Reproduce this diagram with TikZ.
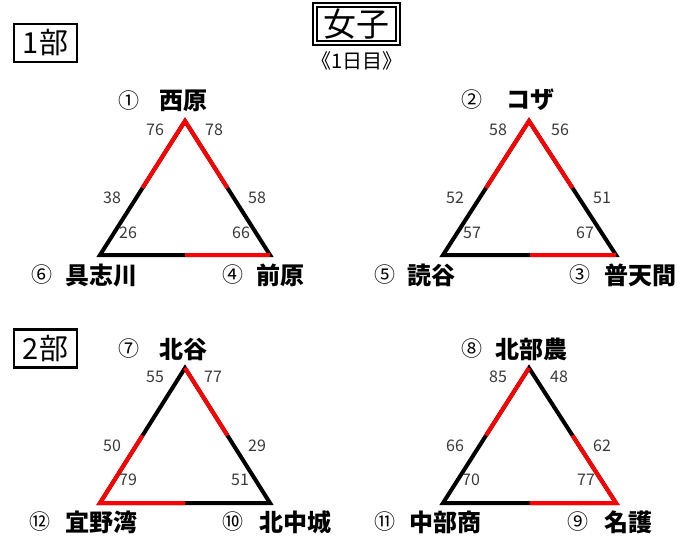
\documentclass[tikz,border=0pt]{standalone}
\usepackage{fontspec}
\setmainfont{Noto Sans CJK JP}
\usetikzlibrary{calc}
\definecolor{scoregray}{HTML}{3A3A3A}
\tikzset{
  score/.style={font=\fontsize{16}{16}\selectfont, text=scoregray, inner sep=0pt},
  team/.style={font=\fontsize{24}{24}\selectfont\bfseries, inner sep=0pt},
  seed/.style={font=\fontsize{21}{21}\selectfont, inner sep=0pt},
  edge/.style={line width=4pt, line join=miter, draw=black},
  win/.style={edge, draw=red},
  divbox/.style={draw=black, line width=2.6pt, minimum width=63pt, minimum height=38pt, inner sep=0pt, font=\fontsize{29}{29}\selectfont}
}
\begin{document}
\begin{tikzpicture}[x=1pt,y=-1pt]
\useasboundingbox (0,0) rectangle (698,541);
\fill[white] (0,0) rectangle (698,541);

% title
\node[draw=black, line width=2pt, minimum width=87pt, minimum height=42pt, inner sep=0pt] (titlebox) at (356.5,24) {};
\node[draw=black, line width=1.4pt, minimum width=79pt, minimum height=34pt, inner sep=0pt, font=\fontsize{33}{33}\selectfont] (title) at (356.5,24) {女子};
\node[font=\fontsize{20}{20}\selectfont, inner sep=0pt] (day) at (357,61) {《1日目》};

% division boxes
\node[divbox] (div1) at (45.5,43) {1部};
\node[divbox] (div2) at (45.5,348.5) {2部};

% ---------- triangle 1 ----------
\coordinate (a1) at (185,121); \coordinate (l1) at (100,255); \coordinate (r1) at (270,255);
\coordinate (ml1) at ($(a1)!0.5!(l1)$); \coordinate (mr1) at ($(a1)!0.5!(r1)$); \coordinate (mb1) at ($(l1)!0.5!(r1)$);
\draw[edge] (a1) -- (l1) -- (r1) -- cycle;
\draw[win] (ml1) -- (a1) -- (mr1);
\draw[win] (mb1) -- (r1);
\node[seed] (s1) at (129,101) {①}; \node[team] (t1) at (183,101) {西原};
\node[seed] (s6) at (42,275) {⑥}; \node[team] (t6) at (101,275) {具志川};
\node[seed] (s4) at (233,275) {④}; \node[team] (t4) at (280,275) {前原};
\node[score] (n1a) at (155,130) {76}; \node[score] (n1b) at (214,130) {78};
\node[score] (n1c) at (112,198) {38}; \node[score] (n1d) at (257,198) {58};
\node[score] (n1e) at (128,233) {26}; \node[score] (n1f) at (241,233) {66};

% ---------- triangle 2 ----------
\coordinate (a2) at (529,121); \coordinate (l2) at (443,255); \coordinate (r2) at (616,255);
\coordinate (ml2) at ($(a2)!0.5!(l2)$); \coordinate (mr2) at ($(a2)!0.5!(r2)$); \coordinate (mb2) at ($(l2)!0.5!(r2)$);
\draw[edge] (a2) -- (l2) -- (r2) -- cycle;
\draw[win] (ml2) -- (a2) -- (mr2);
\draw[win] (mb2) -- (r2);
\node[seed] (s2) at (472,100) {②}; \node[team] (t2) at (530,100) {コザ};
\node[seed] (s5) at (385,275) {⑤}; \node[team] (t5) at (431,275) {読谷};
\node[seed] (s3) at (580,275) {③}; \node[team] (t3) at (640,275) {普天間};
\node[score] (n2a) at (498,130) {58}; \node[score] (n2b) at (560,130) {56};
\node[score] (n2c) at (455,198) {52}; \node[score] (n2d) at (602,198) {51};
\node[score] (n2e) at (472,233) {57}; \node[score] (n2f) at (585,233) {67};

% ---------- triangle 3 ----------
\coordinate (a3) at (185,368); \coordinate (l3) at (100,503); \coordinate (r3) at (270,503);
\coordinate (ml3) at ($(a3)!0.5!(l3)$); \coordinate (mr3) at ($(a3)!0.5!(r3)$); \coordinate (mb3) at ($(l3)!0.5!(r3)$);
\draw[edge] (a3) -- (l3) -- (r3) -- cycle;
\draw[win] (a3) -- (mr3);
\draw[win] (ml3) -- (l3) -- (mb3);
\node[seed] (s7) at (129,349) {⑦}; \node[team] (t7) at (183,349) {北谷};
\node[seed] (s12) at (40,522) {⑫}; \node[team] (t12) at (101,522) {宜野湾};
\node[seed] (s10) at (233,522) {⑩}; \node[team] (t10) at (295,522) {北中城};
\node[score] (n3a) at (155,377) {55}; \node[score] (n3b) at (213,377) {77};
\node[score] (n3c) at (112,446) {50}; \node[score] (n3d) at (257,446) {29};
\node[score] (n3e) at (128,480) {79}; \node[score] (n3f) at (240,480) {51};

% ---------- triangle 4 ----------
\coordinate (a4) at (529,368); \coordinate (l4) at (443,503); \coordinate (r4) at (616,503);
\coordinate (ml4) at ($(a4)!0.5!(l4)$); \coordinate (mr4) at ($(a4)!0.5!(r4)$); \coordinate (mb4) at ($(l4)!0.5!(r4)$);
\draw[edge] (a4) -- (l4) -- (r4) -- cycle;
\draw[win] (ml4) -- (a4);
\draw[win] (mr4) -- (r4) -- (mb4);
\node[seed] (s8) at (472,349) {⑧}; \node[team] (t8) at (531,349) {北部農};
\node[seed] (s11) at (385,522) {⑪}; \node[team] (t11) at (445,522) {中部商};
\node[seed] (s9) at (578,522) {⑨}; \node[team] (t9) at (628,522) {名護};
\node[score] (n4a) at (498,377) {85}; \node[score] (n4b) at (559,377) {48};
\node[score] (n4c) at (455,446) {66}; \node[score] (n4d) at (602,446) {62};
\node[score] (n4e) at (471,480) {70}; \node[score] (n4f) at (586,480) {77};
\end{tikzpicture}
\end{document}
